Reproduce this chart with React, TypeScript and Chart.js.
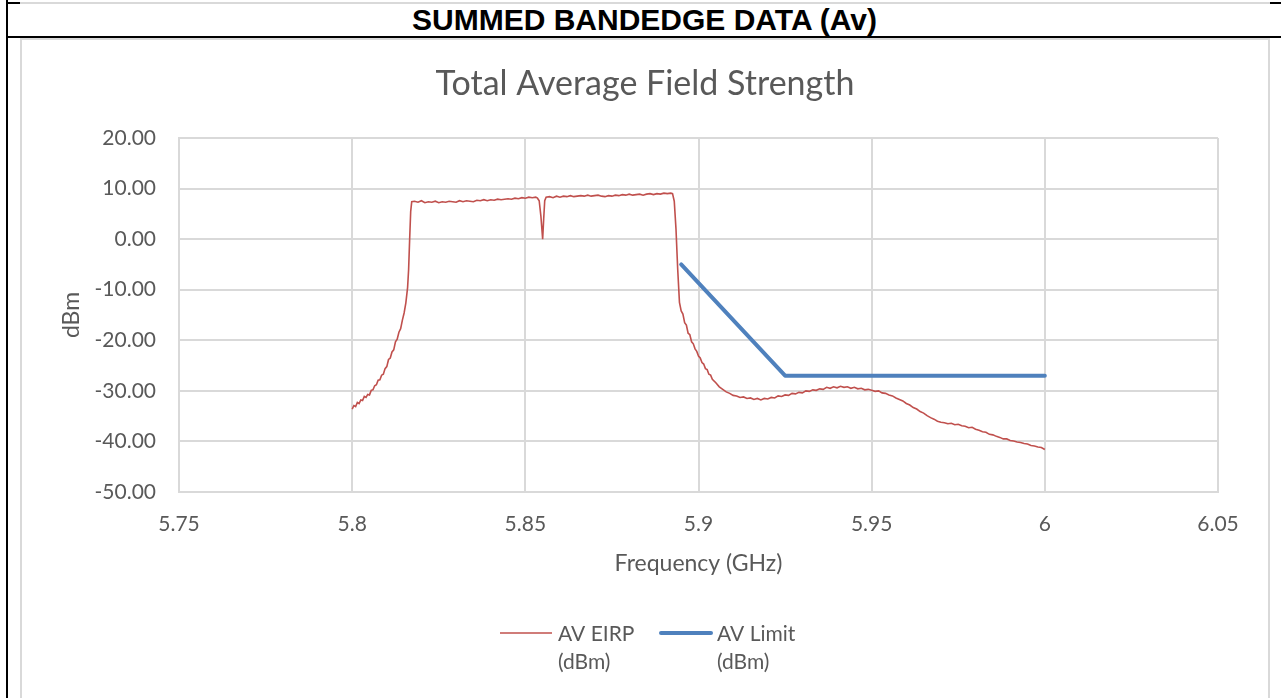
import React, { useEffect, useRef } from "react";
import { Chart, registerables } from "chart.js";

Chart.register(...registerables);

// ---------- DATA ----------
const headerText = "SUMMED BANDEDGE DATA (Av)";
const chartTitle = "Total Average Field Strength";
const xAxisTitle = "Frequency (GHz)";
const yAxisTitle = "dBm";

const yTickMin = -50;
const yTickMax = 20;
const yTickStep = 10;
const xTickMin = 5.75;
const xTickMax = 6.05;
const xTickStep = 0.05;

const eirpLegend = ["AV EIRP", "(dBm)"];
const limitLegend = ["AV Limit", "(dBm)"];

const eirpFreq = [
  5.8, 5.8005, 5.801, 5.8015, 5.802, 5.8025, 5.803, 5.8035, 5.804, 5.8045,
  5.805, 5.8055, 5.806, 5.8065, 5.807, 5.8075, 5.808, 5.8085, 5.809, 5.8095,
  5.81, 5.8105, 5.811, 5.8115, 5.812, 5.8125, 5.813, 5.8135, 5.814, 5.8145,
  5.815, 5.8155, 5.816, 5.8163, 5.8166, 5.8169, 5.8172,
  5.818, 5.819, 5.82, 5.821, 5.822, 5.823, 5.824, 5.825, 5.826, 5.827,
  5.828, 5.829, 5.83, 5.831, 5.832, 5.833, 5.834, 5.835, 5.836, 5.837,
  5.838, 5.839, 5.84, 5.841, 5.842, 5.843, 5.844, 5.845, 5.846, 5.847,
  5.848, 5.849, 5.85, 5.851, 5.852, 5.853, 5.8535, 5.854, 5.8545, 5.855,
  5.8553, 5.8556, 5.856, 5.857, 5.858, 5.859, 5.86, 5.861, 5.862, 5.863,
  5.864, 5.865, 5.866, 5.867, 5.868, 5.869, 5.87, 5.871, 5.872, 5.873,
  5.874, 5.875, 5.876, 5.877, 5.878, 5.879, 5.88, 5.881, 5.882, 5.883,
  5.884, 5.885, 5.886, 5.887, 5.888, 5.889, 5.89, 5.891, 5.892, 5.8925,
  5.893, 5.8935, 5.894, 5.8945, 5.895, 5.8955, 5.896, 5.8965, 5.897, 5.8975,
  5.898, 5.8985, 5.899, 5.8995, 5.9, 5.9005, 5.901, 5.9015, 5.902, 5.9025,
  5.903, 5.9035, 5.904, 5.905, 5.906, 5.907, 5.908, 5.909, 5.91, 5.911,
  5.912, 5.913, 5.914, 5.915, 5.916, 5.917, 5.918, 5.919, 5.92, 5.921,
  5.922, 5.923, 5.924, 5.925, 5.926, 5.927, 5.928, 5.929, 5.93, 5.931,
  5.932, 5.933, 5.934, 5.935, 5.936, 5.937, 5.938, 5.939, 5.94, 5.941,
  5.942, 5.943, 5.944, 5.945, 5.946, 5.947, 5.948, 5.949, 5.95, 5.951,
  5.952, 5.953, 5.954, 5.955, 5.956, 5.957, 5.958, 5.959, 5.96, 5.961,
  5.962, 5.963, 5.964, 5.965, 5.966, 5.967, 5.968, 5.969, 5.97, 5.971,
  5.972, 5.973, 5.974, 5.975, 5.976, 5.977, 5.978, 5.979, 5.98, 5.981,
  5.982, 5.983, 5.984, 5.985, 5.986, 5.987, 5.988, 5.989, 5.99, 5.991,
  5.992, 5.993, 5.994, 5.995, 5.996, 5.997, 5.998, 5.999, 6.0,
];

const eirpLevel = [
  -33.6, -32.9, -33.1, -32.3, -32.5, -31.8, -31.9, -31.1, -31.3, -30.7,
  -30.8, -29.9, -29.8, -29.0, -28.8, -27.9, -27.8, -26.9, -26.7, -25.6,
  -25.2, -23.8, -23.5, -22.3, -21.9, -20.3, -19.8, -18.4, -17.7, -16.0,
  -14.6, -12.6, -9.6, -6.0, 0.0, 5.5, 7.4,
  7.5, 7.3, 7.6, 7.2, 7.4, 7.3, 7.5, 7.2, 7.4, 7.3,
  7.5, 7.4, 7.3, 7.6, 7.4, 7.6, 7.5, 7.4, 7.7, 7.6,
  7.8, 7.6, 7.8, 7.7, 7.9, 7.8, 7.9, 8.0, 7.9, 8.1,
  8.0, 8.2, 8.1, 8.3, 8.2, 8.3, 8.1, 7.6, 4.5, 0.0,
  4.0, 7.6, 8.3, 8.4, 8.2, 8.5, 8.3, 8.5, 8.4, 8.6,
  8.4, 8.5, 8.6, 8.5, 8.7, 8.5, 8.6, 8.7, 8.5, 8.4,
  8.6, 8.5, 8.7, 8.6, 8.8, 8.7, 8.9, 8.7, 8.8, 8.9,
  8.7, 8.9, 9.0, 8.8, 9.0, 8.9, 9.1, 9.0, 9.1, 9.0,
  7.5, 2.0, -6.0, -12.5, -14.2, -14.8, -16.5, -17.0, -18.6, -18.9,
  -20.3, -20.7, -21.7, -22.2, -23.1, -23.5, -24.4, -24.7, -25.6, -25.8,
  -26.7, -26.9, -27.7, -28.4, -29.2, -29.7, -30.2, -30.5, -30.9, -31.0,
  -31.3, -31.2, -31.5, -31.4, -31.7, -31.5, -31.8, -31.5, -31.6, -31.3,
  -31.4, -31.0, -31.1, -30.8, -30.9, -30.5, -30.6, -30.3, -30.4, -30.0,
  -30.1, -29.8, -29.9, -29.6, -29.7, -29.3, -29.5, -29.2, -29.4, -29.1,
  -29.3, -29.2, -29.5, -29.3, -29.6, -29.5, -29.8, -29.7, -29.9, -30.1,
  -30.0, -30.4, -30.5, -30.8, -31.0, -31.4, -31.7, -32.0, -32.5, -32.8,
  -33.3, -33.6, -34.1, -34.4, -34.9, -35.3, -35.6, -36.0, -36.2, -36.3,
  -36.5, -36.4, -36.7, -36.6, -36.9, -37.0, -37.3, -37.2, -37.6, -37.8,
  -38.1, -38.2, -38.6, -38.7, -39.0, -39.2, -39.5, -39.5, -39.8, -39.9,
  -40.1, -40.2, -40.4, -40.5, -40.8, -40.9, -41.1, -41.2, -41.6,
];

const limitFreq = [5.895, 5.925, 6.0];
const limitLevel = [-5.0, -27.0, -27.0];

// ---------- STYLE ----------
const RED = "#C0504D";
const BLUE = "#4F81BD";
const GRID = "#D9D9D9";
const TEXT = "#595959";
const FONT = "Lato";

const titleAndLegendPlugin = {
  id: "titleAndLegend",
  afterDraw(chart: any) {
    const ctx = chart.ctx;
    ctx.save();
    // chart title, centred on the canvas
    ctx.fillStyle = TEXT;
    ctx.font = `34px ${FONT}`;
    ctx.textAlign = "center";
    ctx.textBaseline = "middle";
    ctx.fillText(chartTitle, chart.width / 2, 44);

    // two-line legend
    const items = [
      { color: RED, width: 1.5, x0: 478, x1: 530, tx: 536, lines: eirpLegend },
      { color: BLUE, width: 4, x0: 639, x1: 689, tx: 695, lines: limitLegend },
    ];
    const y0 = 594;
    const lh = 28;
    items.forEach((it) => {
      ctx.beginPath();
      ctx.strokeStyle = it.color;
      ctx.lineWidth = it.width;
      ctx.lineCap = it.width > 2 ? "round" : "butt";
      ctx.moveTo(it.x0, y0 - 1);
      ctx.lineTo(it.x1, y0 - 1);
      ctx.stroke();
      ctx.fillStyle = TEXT;
      ctx.font = `21px ${FONT}`;
      ctx.textAlign = "left";
      ctx.textBaseline = "middle";
      it.lines.forEach((t, i) => ctx.fillText(t, it.tx, y0 + i * lh));
    });
    ctx.restore();
  },
};

export default function App() {
  const canvasRef = useRef<HTMLCanvasElement | null>(null);

  useEffect(() => {
    document.body.style.margin = "0";
    const canvas = canvasRef.current;
    if (!canvas) return;
    const chart = new Chart(canvas, {
      type: "scatter",
      data: {
        datasets: [
          {
            label: eirpLegend.join(" "),
            data: eirpFreq.map((f, i) => ({ x: f, y: eirpLevel[i] })),
            showLine: true,
            borderColor: RED,
            backgroundColor: RED,
            borderWidth: 1.6,
            pointRadius: 0,
            tension: 0,
          },
          {
            label: limitLegend.join(" "),
            data: limitFreq.map((f, i) => ({ x: f, y: limitLevel[i] })),
            showLine: true,
            borderColor: BLUE,
            backgroundColor: BLUE,
            borderWidth: 4,
            borderCapStyle: "round",
            borderJoinStyle: "round",
            pointRadius: 0,
            tension: 0,
          },
        ],
      },
      options: {
        responsive: false,
        animation: false,
        layout: { padding: { left: 0, right: 50, top: 98, bottom: 116 } },
        plugins: {
          legend: { display: false },
          tooltip: { enabled: false },
          title: { display: false },
        },
        scales: {
          x: {
            type: "linear",
            min: xTickMin,
            max: xTickMax,
            afterFit: (s: any) => {
              s.height = 90;
            },
            ticks: {
              stepSize: xTickStep,
              padding: 20,
              color: TEXT,
              font: { family: FONT, size: 21 },
              maxRotation: 0,
              callback: (v: any) => String(parseFloat(Number(v).toFixed(2))),
            },
            grid: { color: GRID, lineWidth: 2, drawTicks: false },
            border: { color: GRID, width: 2 },
            title: {
              display: true,
              text: xAxisTitle,
              color: TEXT,
              font: { family: FONT, size: 23 },
              padding: { top: 0, bottom: 5 },
            },
          },
          y: {
            type: "linear",
            min: yTickMin,
            max: yTickMax,
            afterFit: (s: any) => {
              s.width = 157;
            },
            ticks: {
              stepSize: yTickStep,
              padding: 23,
              color: TEXT,
              font: { family: FONT, size: 21 },
              callback: (v: any) => Number(v).toFixed(2),
            },
            grid: { color: GRID, lineWidth: 2, drawTicks: false },
            border: { color: GRID, width: 2 },
            title: {
              display: true,
              text: yAxisTitle,
              color: TEXT,
              font: { family: FONT, size: 23 },
              padding: { top: 36, bottom: 0 },
            },
          },
        },
      },
      plugins: [titleAndLegendPlugin],
    });
    return () => chart.destroy();
  }, []);

  return (
    <div
      style={{
        position: "absolute",
        left: 0,
        top: 0,
        width: 1281,
        height: 698,
        overflow: "hidden",
        background: "#fff",
      }}
    >
      <div style={{ position: "absolute", left: 6, top: 0, width: 2, height: 698, background: "#000" }} />
      <div style={{ position: "absolute", left: 6, top: 2, width: 14, height: 2, background: "#000" }} />
      <div style={{ position: "absolute", left: 20, top: 2, width: 1250, height: 2, background: GRID }} />
      <div style={{ position: "absolute", left: 1270, top: 2, width: 11, height: 2, background: "#000" }} />
      <div style={{ position: "absolute", left: 6, top: 36, width: 1275, height: 2, background: "#000" }} />
      <div
        style={{
          position: "absolute",
          left: 8,
          top: 4,
          width: 1273,
          height: 32,
          lineHeight: "32px",
          textAlign: "center",
          fontFamily: "'Liberation Sans', Arial, sans-serif",
          fontWeight: "bold",
          fontSize: 30,
          color: "#000",
          whiteSpace: "nowrap",
        }}
      >
        {headerText}
      </div>
      <div
        style={{
          position: "absolute",
          left: 20,
          top: 38,
          width: 1250,
          height: 720,
          boxSizing: "border-box",
          border: `2px solid ${GRID}`,
        }}
      />
      <canvas
        ref={canvasRef}
        width={1246}
        height={658}
        style={{ position: "absolute", left: 22, top: 40, width: 1246, height: 658 }}
      />
    </div>
  );
}
